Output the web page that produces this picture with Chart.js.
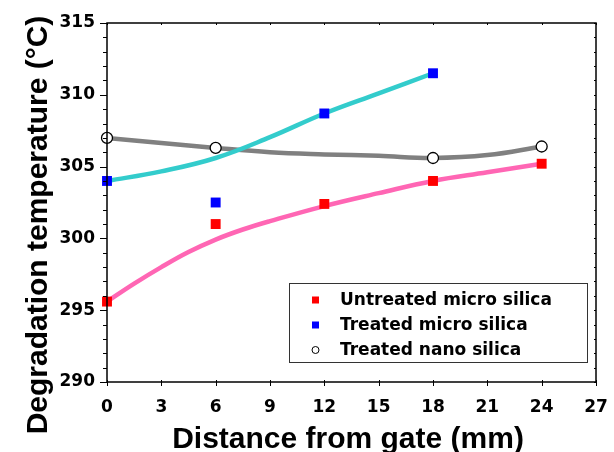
<!DOCTYPE html>
<html>
<head>
<meta charset="utf-8">
<script src="https://cdn.jsdelivr.net/npm/chart.js@4.4.0/dist/chart.umd.min.js"></script>
<style>
  html, body { margin: 0; padding: 0; background: #fff; }
  #wrap { width: 614px; height: 452px; }
</style>
</head>
<body>
<div id="wrap"><canvas id="chart" width="614" height="452"></canvas></div>
<script>
// measured points
const untreatedX = [0, 6, 12, 18, 24];
const untreatedY = [295.6, 301.0, 302.4, 304.0, 305.2];
const treatedMicroX = [0, 6, 12, 18];
const treatedMicroY = [304.0, 302.5, 308.7, 311.5];
const treatedNanoX = [0, 6, 18, 24];
const treatedNanoY = [307.0, 306.3, 305.6, 306.4];

// fitted curves
const untreatedCurveX = [0, 1.5, 3, 4.5, 6, 7.5, 9, 12, 15, 18, 21, 24];
const untreatedCurve = [295.6, 296.85, 298.0, 299.05, 299.92, 300.62, 301.2, 302.25, 303.15, 304.0, 304.6, 305.2];
const curveX = [0, 3, 6, 9, 12, 15, 18, 21, 24];
const treatedMicroCurve = [304.0, 304.67, 305.6, 307.05, 308.7, 310.1, 311.5];
const treatedNanoCurve = [307.0, 306.65, 306.3, 306.0, 305.85, 305.75, 305.6, 305.8, 306.4];

const xTicks = [0, 3, 6, 9, 12, 15, 18, 21, 24, 27];
const yTicks = [290, 295, 300, 305, 310, 315];

const legendLabels = ['Untreated micro silica', 'Treated micro silica', 'Treated nano silica'];

const pts = (xs, ys) => ys.map((y, i) => ({ x: xs[i], y: y }));

const tickFont = { family: 'DejaVu Sans', size: 17, weight: 'bold' };

function drawFrame(chart) {
    const ctx = chart.ctx;
    const a = chart.chartArea;
    const xs = chart.scales.x;
    const ys = chart.scales.y;
    ctx.save();
    ctx.strokeStyle = '#000';
    ctx.lineWidth = 1.5;
    ctx.strokeRect(a.left, a.top, a.right - a.left, a.bottom - a.top);
    ctx.lineWidth = 1;
    for (let v = yTicks[0]; v <= yTicks[yTicks.length - 1]; v++) {
        const py = Math.round(ys.getPixelForValue(v)) + 0.5;
        const len = v % 5 === 0 ? 7 : 4;
        ctx.beginPath();
        ctx.moveTo(a.left - len, py);
        ctx.lineTo(a.left, py);
        ctx.moveTo(a.right - 2, py);
        ctx.lineTo(a.right, py);
        ctx.stroke();
    }
    xTicks.forEach(v => {
        const px = Math.round(xs.getPixelForValue(v)) + 0.5;
        ctx.beginPath();
        ctx.moveTo(px, a.bottom - 2);
        ctx.lineTo(px, a.bottom + 4);
        ctx.moveTo(px, a.top);
        ctx.lineTo(px, a.top + 2);
        ctx.stroke();
    });
    ctx.restore();
}

// frame, tick marks, axis titles and legend box
const decorations = {
    id: 'decorations',
    afterDraw(chart) {
        drawFrame(chart);

        const ctx = chart.ctx;
        ctx.save();
        ctx.fillStyle = '#000';
        ctx.font = 'bold 30px "Liberation Sans"';
        ctx.textAlign = 'center';
        ctx.textBaseline = 'alphabetic';
        ctx.fillText('Distance from gate (mm)', 348, 448);
        ctx.translate(47, 225);
        ctx.rotate(-Math.PI / 2);
        ctx.fillText('Degradation temperature (°C)', 0, 0);
        ctx.restore();

        // legend
        ctx.save();
        ctx.strokeStyle = '#333';
        ctx.lineWidth = 1;
        ctx.fillStyle = '#fff';
        ctx.fillRect(289.5, 283.5, 298, 79);
        ctx.strokeRect(289.5, 283.5, 298, 79);
        ctx.font = 'bold 17px "DejaVu Sans"';
        ctx.textBaseline = 'middle';
        ctx.textAlign = 'left';
        const rows = [300, 325, 350];
        const ds = chart.data.datasets;
        legendLabels.forEach((label, i) => {
            const d = ds[i];
            const y = rows[i];
            if (d.pointStyle === 'rect') {
                ctx.fillStyle = d.backgroundColor;
                ctx.fillRect(312, y - 3.5, 7, 7);
            } else {
                ctx.beginPath();
                ctx.arc(315.5, y, 3.5, 0, Math.PI * 2);
                ctx.fillStyle = '#fff';
                ctx.fill();
                ctx.strokeStyle = '#000';
                ctx.stroke();
            }
            ctx.fillStyle = '#000';
            ctx.fillText(label, 340, y + 1);
        });
        ctx.restore();
    }
};

const markerBase = { type: 'scatter', showLine: false, clip: false, pointBorderWidth: 0 };
const curveBase = { type: 'line', pointRadius: 0, borderWidth: 4.5, tension: 0.4, fill: false };

new Chart(document.getElementById('chart').getContext('2d'), {
    data: {
        datasets: [
            Object.assign({}, markerBase, {
                label: legendLabels[0],
                data: pts(untreatedX, untreatedY),
                pointStyle: 'rect',
                pointRadius: 7,
                backgroundColor: '#ff0000',
                borderColor: '#ff0000'
            }),
            Object.assign({}, markerBase, {
                label: legendLabels[1],
                data: pts(treatedMicroX, treatedMicroY),
                pointStyle: 'rect',
                pointRadius: 7,
                backgroundColor: '#0000ff',
                borderColor: '#0000ff'
            }),
            Object.assign({}, markerBase, {
                label: legendLabels[2],
                data: pts(treatedNanoX, treatedNanoY),
                pointStyle: 'circle',
                pointRadius: 5.5,
                pointBorderWidth: 1.3,
                backgroundColor: '#ffffff',
                borderColor: '#000000'
            }),
            Object.assign({}, curveBase, {
                label: 'untreated fit',
                data: pts(untreatedCurveX, untreatedCurve),
                borderColor: '#ff66b4'
            }),
            Object.assign({}, curveBase, {
                label: 'treated micro fit',
                data: pts(curveX, treatedMicroCurve),
                borderColor: '#33cccc'
            }),
            Object.assign({}, curveBase, {
                label: 'treated nano fit',
                data: pts(curveX, treatedNanoCurve),
                borderColor: '#808080'
            })
        ]
    },
    options: {
        responsive: false,
        animation: false,
        layout: { padding: { left: 0, top: 23, right: 18, bottom: 0 } },
        plugins: {
            legend: { display: false },
            tooltip: { enabled: false }
        },
        scales: {
            x: {
                type: 'linear',
                min: 0,
                max: 27,
                grid: { display: false, tickLength: 8 },
                border: { display: false },
                afterBuildTicks: scale => { scale.ticks = xTicks.map(v => ({ value: v })); },
                afterFit: scale => {
                    scale.height = 70;
                    scale.paddingLeft = 0;
                    scale.paddingRight = 0;
                },
                ticks: { color: '#000', font: tickFont, padding: 7, maxRotation: 0 }
            },
            y: {
                type: 'linear',
                min: 290,
                max: 315,
                grid: { display: false, tickLength: 8 },
                border: { display: false },
                afterBuildTicks: scale => { scale.ticks = yTicks.map(v => ({ value: v })); },
                afterFit: scale => {
                    scale.width = 107;
                    scale.paddingTop = 0;
                    scale.paddingBottom = 0;
                },
                ticks: { color: '#000', font: tickFont, padding: 4 }
            }
        }
    },
    plugins: [decorations]
});
</script>
</body>
</html>
